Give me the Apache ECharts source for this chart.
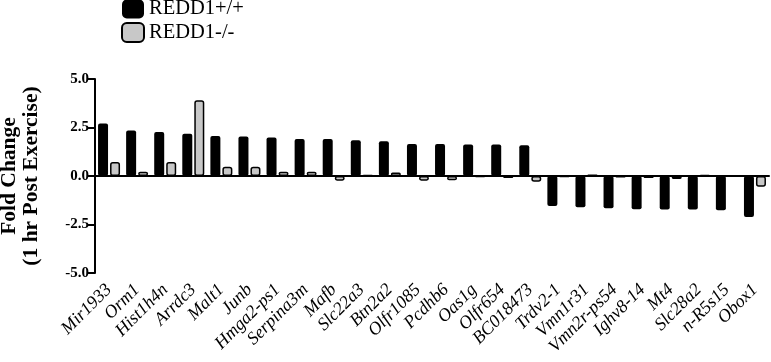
<!DOCTYPE html>
<html>
<head>
<meta charset="utf-8">
<script src="https://cdn.jsdelivr.net/npm/echarts@6/dist/echarts.min.js"></script>
<style>
  html, body { margin: 0; padding: 0; background: #fff; }
  #chart { width: 771px; height: 362px; }
</style>
</head>
<body>
<div id="chart"></div>
<script>
const genes = ['Mir1933', 'Orm1', 'Hist1h4n', 'Arrdc3', 'Malt1', 'Junb', 'Hmga2-ps1', 'Serpina3m',
  'Mafb', 'Slc22a3', 'Btn2a2', 'Olfr1085', 'Pcdhb6', 'Oas1g', 'Olfr654', 'BC018473',
  'Trdv2-1', 'Vmn1r31', 'Vmn2r-ps54', 'Ighv8-14', 'Mt4', 'Slc28a2', 'n-R5s15', 'Obox1']

const wildType = [2.7, 2.35, 2.27, 2.18, 2.06, 2.04, 1.98, 1.91,
  1.91, 1.84, 1.79, 1.65, 1.65, 1.63, 1.62, 1.59,
  -1.55, -1.61, -1.66, -1.71, -1.73, -1.73, -1.76, -2.11]

const knockout = [0.72, 0.22, 0.72, 3.9, 0.48, 0.48, 0.22, 0.22,
  -0.24, 0.05, 0.18, -0.24, -0.22, -0.05, -0.1, -0.3,
  -0.04, 0.08, -0.08, -0.1, -0.15, 0.06, -0.03, -0.55]

const yTicks = [-5, -2.5, 0, 2.5, 5]

const serif = 'Liberation Serif'
const chart = echarts.init(document.getElementById('chart'))

chart.setOption({
  animation: false,
  grid: { left: 95, right: 2, top: 79, bottom: 89, outerBoundsMode: 'none' },
  legend: {
    orient: 'vertical',
    left: 121,
    top: -2,
    padding: 0,
    itemWidth: 22,
    itemHeight: 19,
    itemGap: 1.5,
    icon: 'roundRect',
    textStyle: { fontFamily: serif, fontSize: 20.5, lineHeight: 22, color: '#000' },
    data: ['REDD1+/+', 'REDD1-/-'],
  },
  xAxis: {
    type: 'category',
    data: genes,
    axisLine: { lineStyle: { color: '#000', width: 2 } },
    axisTick: { alignWithLabel: true, length: 7, lineStyle: { color: '#000', width: 2 } },
    axisLabel: {
      interval: 0,
      rotate: 45,
      margin: 14,
      fontFamily: serif,
      fontStyle: 'italic',
      fontSize: 18,
      color: '#000',
    },
  },
  yAxis: {
    type: 'value',
    min: yTicks[0],
    max: yTicks[yTicks.length - 1],
    interval: 2.5,
    name: 'Fold Change\n(1 hr Post Exercise)',
    nameLocation: 'middle',
    nameGap: 53,
    nameTextStyle: { fontFamily: serif, fontWeight: 'bold', fontSize: 21.5, lineHeight: 22, color: '#000' },
    axisLine: { show: true, lineStyle: { color: '#000', width: 2 } },
    axisTick: { show: true, length: 7, lineStyle: { color: '#000', width: 2 } },
    splitLine: { show: false },
    axisLabel: {
      margin: 6,
      fontFamily: serif,
      fontWeight: 'bold',
      fontSize: 15,
      color: '#000',
      formatter: v => v.toFixed(1),
    },
  },
  series: [
    {
      name: 'REDD1+/+',
      type: 'bar',
      data: wildType,
      barWidth: 10,
      barGap: '20%',
      itemStyle: { color: '#000', borderRadius: 2 },
      markLine: {
        silent: true,
        symbol: 'none',
        label: { show: false },
        lineStyle: { color: '#000', type: 'solid', width: 1.5 },
        data: [{ yAxis: 0 }],
      },
    },
    {
      name: 'REDD1-/-',
      type: 'bar',
      data: knockout,
      barWidth: 10,
      itemStyle: { color: '#c8c8c8', borderColor: '#000', borderWidth: 1.5, borderRadius: 2 },
    },
  ],
})
</script>
</body>
</html>
